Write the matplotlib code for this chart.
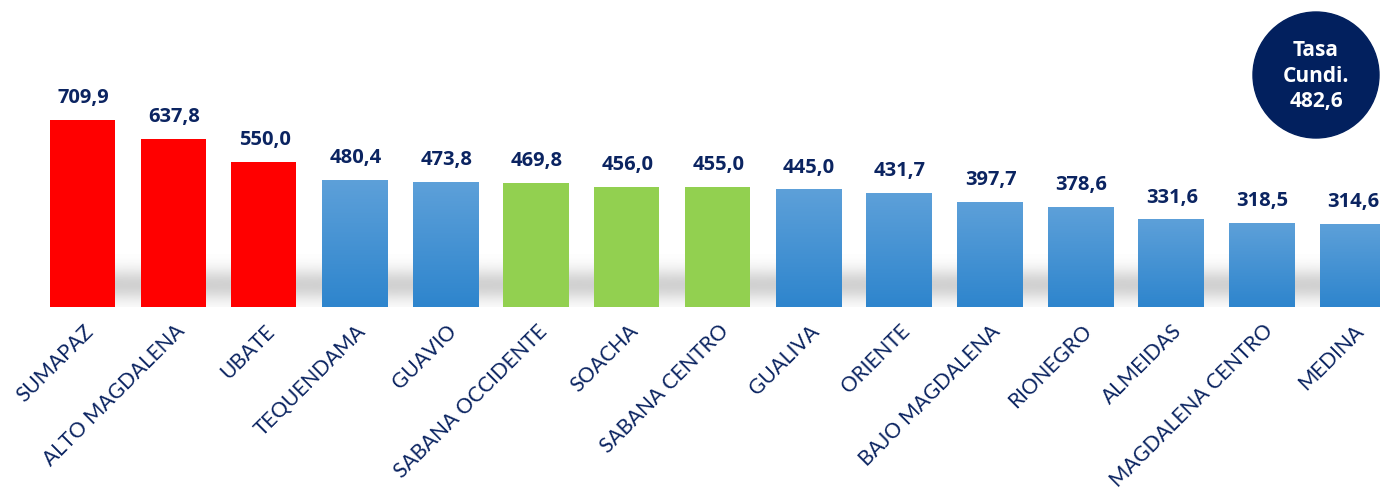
import numpy as np
import matplotlib.pyplot as plt
from matplotlib.patches import Circle

# data
provincias = ['SUMAPAZ', 'ALTO MAGDALENA', 'UBATE', 'TEQUENDAMA', 'GUAVIO',
              'SABANA OCCIDENTE', 'SOACHA', 'SABANA CENTRO', 'GUALIVA', 'ORIENTE',
              'BAJO MAGDALENA', 'RIONEGRO', 'ALMEIDAS', 'MAGDALENA CENTRO', 'MEDINA']
tasas = [709.9, 637.8, 550.0, 480.4, 473.8, 469.8, 456.0, 455.0, 445.0, 431.7,
         397.7, 378.6, 331.6, 318.5, 314.6]
grupo = ['alto', 'alto', 'alto', 'medio', 'medio', 'verde', 'verde', 'verde',
         'medio', 'medio', 'medio', 'medio', 'medio', 'medio', 'medio']
tasa_cundi = 482.6

navy = '#0b2461'
plt.rcParams['font.family'] = ['Lato', 'DejaVu Sans']
bold_font = ['Open Sans', 'DejaVu Sans']

fig = plt.figure(figsize=(13.8, 4.89), dpi=100)
ax = fig.add_axes([0, 181 / 489, 1, 308 / 489])
ax.axis('off')

# soft grey shadow band behind bars
yy = np.linspace(0, 1, 200)
prof = np.exp(-((yy - 0.42) / 0.3) ** 2) * 0.3
band = np.zeros((200, 1, 4))
band[..., :3] = 0.4
band[:, 0, 3] = prof
ax.imshow(band, extent=(-0.3, 14.6, 0, 200), aspect='auto', origin='lower',
          zorder=1, interpolation='bicubic')

w = 0.717
grad = np.linspace(0, 1, 100).reshape(-1, 1)
top_c = np.array([0x5d, 0xa0, 0xd9]) / 255
bot_c = np.array([0x2e, 0x85, 0xcd]) / 255
blue_img = bot_c + (top_c - bot_c) * grad[..., None]
blue_img = blue_img.reshape(100, 1, 3)

for i, (v, g) in enumerate(zip(tasas, grupo)):
    if g == 'medio':
        ax.imshow(blue_img, extent=(i - w / 2, i + w / 2, 0, v), aspect='auto',
                  origin='lower', zorder=3)
    else:
        col = '#ff0000' if g == 'alto' else '#92d050'
        ax.bar(i, v, width=w, color=col, zorder=3)
    ax.annotate(f'{v:.1f}'.replace('.', ','), xy=(i, v), xytext=(1, 23),
                textcoords='offset pixels', ha='center', va='center',
                fontsize=14.5, fontweight='bold', color=navy, zorder=4,
                family=bold_font, annotation_clip=False)
    ax.annotate(provincias[i], xy=(i, 0), xytext=(8, -20),
                textcoords='offset pixels', ha='right', va='center',
                rotation=45, rotation_mode='anchor', fontsize=15,
                color=navy, annotation_clip=False)

ax.set_xlim(-82.5 / 90.7, (1380 - 82.5) / 90.7)
ax.set_ylim(0, 308 / 0.2634)

# circle badge
bx = fig.add_axes([0, 0, 1, 1], facecolor='none')
bx.set_xlim(0, 1380)
bx.set_ylim(489, 0)
bx.axis('off')
bx.add_patch(Circle((1316, 76), 63, color='#02205e', zorder=5))
for txt, yv in [('Tasa', 50), ('Cundi.', 76), (f'{tasa_cundi:.1f}'.replace('.', ','), 102)]:
    bx.text(1316, yv, txt, ha='center', va='center', color='white',
            fontsize=15, fontweight='bold', zorder=6, family=bold_font)

fig.savefig('out.png', dpi=100)
